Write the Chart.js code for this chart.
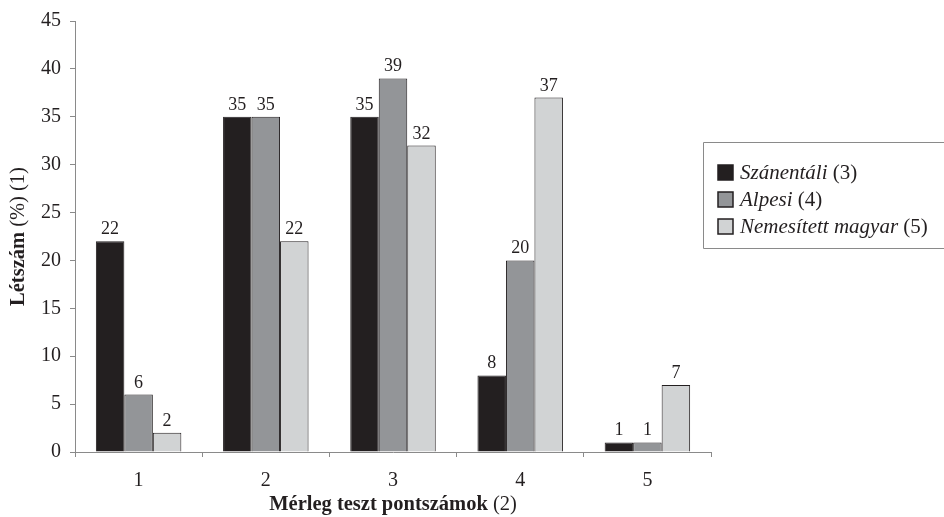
<!DOCTYPE html>
<html>
<head>
<meta charset="utf-8">
<script src="https://cdn.jsdelivr.net/npm/chart.js@4/dist/chart.umd.min.js"></script>
<style>
  html, body { margin: 0; padding: 0; background: #fff; }
  #wrap { width: 944px; height: 517px; position: relative; }
</style>
</head>
<body>
<div id="wrap"><canvas id="c" width="944" height="517"></canvas></div>
<script>
const categories = ['1', '2', '3', '4', '5'];
const seriesNames = ['Szánentáli', 'Alpesi', 'Nemesített magyar'];
const seriesRefs = ['(3)', '(4)', '(5)'];
const szanentali = [22, 35, 35, 8, 1];
const alpesi = [6, 35, 39, 20, 1];
const nemesitett = [2, 22, 32, 37, 7];
const yTicks = [0, 5, 10, 15, 20, 25, 30, 35, 40, 45];
const yTitleBold = 'Létszám';
const yTitleRest = ' (%) (1)';
const xTitleBold = 'Mérleg teszt pontszámok';
const xTitleRest = ' (2)';

const colors = ['#231f20', '#939598', '#d1d3d4'];
const edge = '#231f20';
const axisColor = '#8a8a8a';
const SERIF = '"Liberation Serif", "Times New Roman", serif';
const TITLE_PX = '20.5px ';
const LEGEND_PX = '21px ';

// value labels above every bar, plus the axis titles and the boxed legend
const decorations = {
  id: 'decorations',
  afterDatasetsDraw(chart) {
    const ctx = chart.ctx;
    ctx.save();
    ctx.fillStyle = '#231f20';
    ctx.font = '18px ' + SERIF;
    ctx.textAlign = 'center';
    ctx.textBaseline = 'alphabetic';
    chart.data.datasets.forEach((ds, i) => {
      chart.getDatasetMeta(i).data.forEach((bar, j) => {
        ctx.fillText(String(ds.data[j]), bar.x, bar.y - 7);
      });
    });

    // x-axis title: bold part + normal part, centred under the plot
    const area = chart.chartArea;
    ctx.textAlign = 'left';
    ctx.font = 'bold ' + TITLE_PX + SERIF;
    const wB = ctx.measureText(xTitleBold).width;
    ctx.font = TITLE_PX + SERIF;
    const wR = ctx.measureText(xTitleRest).width;
    const x0 = (area.left + area.right) / 2 - (wB + wR) / 2;
    ctx.font = 'bold ' + TITLE_PX + SERIF;
    ctx.fillText(xTitleBold, x0, 510);
    ctx.font = TITLE_PX + SERIF;
    ctx.fillText(xTitleRest, x0 + wB, 510);

    // y-axis title, rotated
    ctx.save();
    ctx.translate(24, (area.top + area.bottom) / 2);
    ctx.rotate(-Math.PI / 2);
    ctx.font = 'bold ' + TITLE_PX + SERIF;
    const yB = ctx.measureText(yTitleBold).width;
    ctx.font = TITLE_PX + SERIF;
    const yR = ctx.measureText(yTitleRest).width;
    const y0 = -(yB + yR) / 2;
    ctx.font = 'bold ' + TITLE_PX + SERIF;
    ctx.fillText(yTitleBold, y0, 0);
    ctx.font = TITLE_PX + SERIF;
    ctx.fillText(yTitleRest, y0 + yB, 0);
    ctx.restore();

    // legend box (open towards the right edge)
    ctx.strokeStyle = axisColor;
    ctx.lineWidth = 1;
    ctx.beginPath();
    ctx.moveTo(950, 142.5);
    ctx.lineTo(703.5, 142.5);
    ctx.lineTo(703.5, 248.5);
    ctx.lineTo(950, 248.5);
    ctx.stroke();
    const rows = [173, 200, 227];
    seriesNames.forEach((name, i) => {
      const cy = rows[i];
      ctx.fillStyle = colors[i];
      ctx.fillRect(718, cy - 8, 15, 15);
      ctx.strokeStyle = edge;
      ctx.lineWidth = 1.5;
      ctx.strokeRect(718, cy - 8, 15, 15);
      ctx.fillStyle = '#231f20';
      ctx.textBaseline = 'middle';
      ctx.font = 'italic ' + LEGEND_PX + SERIF;
      ctx.fillText(name, 740, cy);
      const w = ctx.measureText(name + ' ').width;
      ctx.font = LEGEND_PX + SERIF;
      ctx.fillText(seriesRefs[i], 740 + w, cy);
    });
    ctx.restore();
  }
};

const mk = (label, data, i) => ({
  label, data,
  backgroundColor: colors[i],
  borderColor: edge,
  borderWidth: 1,
  borderSkipped: 'bottom'
});

new Chart(document.getElementById('c'), {
  type: 'bar',
  data: {
    labels: categories,
    datasets: [
      mk(seriesNames[0], szanentali, 0),
      mk(seriesNames[1], alpesi, 1),
      mk(seriesNames[2], nemesitett, 2)
    ]
  },
  options: {
    responsive: false,
    animation: false,
    devicePixelRatio: 1,
    layout: { padding: { left: 0, right: 233, top: 19, bottom: 0 } },
    datasets: { bar: { categoryPercentage: 0.672, barPercentage: 1 } },
    plugins: { legend: { display: false }, tooltip: { enabled: false } },
    scales: {
      x: {
        offset: true,
        grid: { offset: true, drawOnChartArea: false, drawTicks: true, tickLength: 5, color: axisColor },
        border: { color: axisColor, width: 1 },
        ticks: { color: '#231f20', font: { family: SERIF, size: 20 }, padding: 12 },
        afterFit(s) { s.height = 65; }
      },
      y: {
        min: 0, max: 45,
        afterBuildTicks(s) { s.ticks = yTicks.map(v => ({ value: v })); },
        grid: { drawOnChartArea: false, drawTicks: true, tickLength: 5, color: axisColor },
        border: { color: axisColor, width: 1 },
        ticks: { color: '#231f20', font: { family: SERIF, size: 20 }, padding: 9 },
        afterFit(s) { s.width = 75; }
      }
    }
  },
  plugins: [decorations]
});
</script>
</body>
</html>
